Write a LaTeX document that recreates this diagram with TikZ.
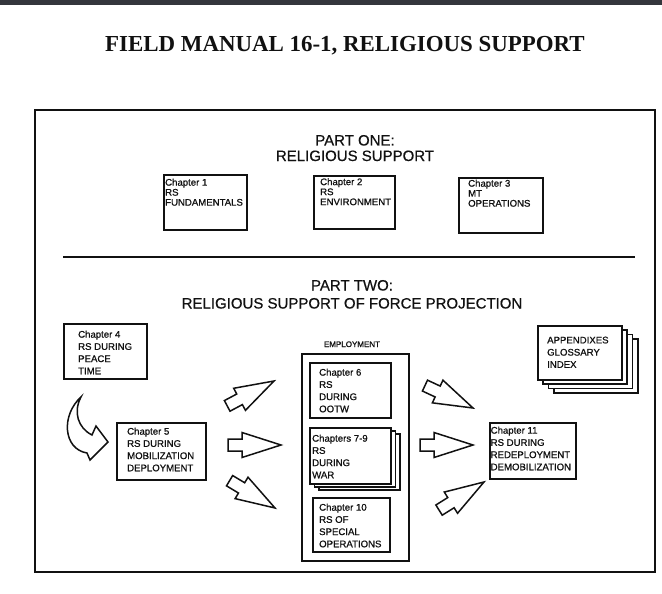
\documentclass[tikz,border=0pt]{standalone}
\usepackage{fontspec}
\setmainfont{Liberation Serif}
\newfontfamily\sansf{Liberation Sans}
\newfontfamily\sansb{Liberation Sans}[FakeBold=0.9]
\newfontfamily\sansh{Liberation Sans}[FakeBold=0.5]
\definecolor{ink}{HTML}{111111}
\definecolor{barcol}{RGB}{52,54,60}
\tikzset{
  chbox/.style={draw=ink, line width=1.5pt, fill=white, inner sep=0pt, anchor=north west},
  chtxt/.style={font=\sansb\fontsize{9.6}{12.2}\selectfont, align=left, anchor=north west, inner sep=0pt, text=ink},
  chtxtone/.style={chtxt, font=\sansb\fontsize{9.6}{10}\selectfont},
  parthead/.style={font=\sansh\fontsize{15}{18}\selectfont, inner sep=0pt, anchor=base, text=ink},
  blk/.style={draw=ink, line width=1.5pt, fill=white, line join=miter},
  blockarrow/.pic={\draw[blk] (-53,-6) -- (-39,-6) -- (-39,-12.5) -- (0,0) -- (-39,12.5) -- (-39,6) -- (-53,6) -- cycle;}
}
\begin{document}
\begin{tikzpicture}[x=1pt,y=-1pt]
\useasboundingbox (0,0) rectangle (662,594);
\fill[white] (0,0) rectangle (662,594);
\fill[barcol] (0,0) rectangle (662,5);
% title
\node[font=\bfseries\fontsize{22.9}{26}\selectfont, anchor=base, inner sep=0pt, text=ink] (title) at (345,52) {FIELD MANUAL 16-1, RELIGIOUS SUPPORT};
% outer frame
\node[draw=ink, line width=1.8pt, inner sep=0pt, anchor=north west, minimum width=620pt, minimum height=462pt] (frame) at (34,109) {};
% part one
\node[parthead] (p1a) at (355,145.5) {PART ONE:};
\node[parthead] (p1b) at (355,161) {RELIGIOUS SUPPORT};
\node[chbox, minimum width=83pt, minimum height=55pt] (c1) at (163,174) {};
\node[chtxtone] (c1t) at (165,178.5) {Chapter 1\\RS\\FUNDAMENTALS};
\node[chbox, minimum width=81pt, minimum height=53pt] (c2) at (313,175) {};
\node[chtxtone] (c2t) at (320,178) {Chapter 2\\RS\\ENVIRONMENT};
\node[chbox, minimum width=84pt, minimum height=55pt] (c3) at (458,177) {};
\node[chtxtone] (c3t) at (468,179.5) {Chapter 3\\MT\\OPERATIONS};
% separator
\coordinate (sepL) at (63,256.5);
\coordinate (sepR) at (635,256.5);
\draw[ink, line width=2pt] (sepL) -- (sepR);
% part two
\node[parthead] (p2a) at (352,290.5) {PART TWO:};
\node[parthead] (p2b) at (352,308.5) {RELIGIOUS SUPPORT OF FORCE PROJECTION};
% chapter 4
\node[chbox, minimum width=83pt, minimum height=55pt] (c4) at (63,323) {};
\node[chtxt] (c4t) at (78,330.5) {Chapter 4\\RS DURING\\PEACE\\TIME};
% curved arrow
\draw[blk] (81,397) .. controls (61,415) and (63,449) .. (87,453) -- (90,460) -- (108,442) -- (96,426) -- (92,435) .. controls (78,428) and (73,412) .. (81,397) -- cycle;
% chapter 5
\node[chbox, minimum width=89pt, minimum height=57pt] (c5) at (116,422) {};
\node[chtxt] (c5t) at (127,427.5) {Chapter 5\\RS DURING\\MOBILIZATION\\DEPLOYMENT};
% left block arrows
\pic[rotate=28] at (274,381) {blockarrow};
\pic at (281,445) {blockarrow};
\pic[rotate=-31] at (275,508) {blockarrow};
% employment
\node[font=\sansb\fontsize{8}{9}\selectfont, anchor=base, inner sep=0pt, text=ink] (emplab) at (352,347) {EMPLOYMENT};
\node[chbox, minimum width=107pt, minimum height=207pt] (emp) at (301,353) {};
\node[chbox, minimum width=81pt, minimum height=55pt] (c6) at (309,362) {};
\node[chtxt] (c6t) at (319,368.5) {Chapter 6\\RS\\DURING\\OOTW};
\node[chbox, minimum width=81pt, minimum height=56pt] (c79c) at (318,433) {};
\node[chbox, minimum width=81pt, minimum height=56pt] (c79b) at (313.5,430) {};
\node[chbox, minimum width=81pt, minimum height=56pt] (c79) at (309,427) {};
\node[chtxt] (c79t) at (312,434.5) {Chapters 7-9\\RS\\DURING\\WAR};
\node[chbox, minimum width=77pt, minimum height=54pt] (c10) at (312,497) {};
\node[chtxt] (c10t) at (319,503.5) {Chapter 10\\RS OF\\SPECIAL\\OPERATIONS};
% right block arrows
\pic[rotate=-25] at (473,408) {blockarrow};
\pic at (473,445) {blockarrow};
\pic[rotate=32] at (484,482) {blockarrow};
% chapter 11
\node[chbox, minimum width=86pt, minimum height=56pt] (c11) at (489,422) {};
\node[chtxt] (c11t) at (490.5,426.5) {Chapter 11\\RS DURING\\REDEPLOYMENT\\DEMOBILIZATION};
% appendixes stack
\node[chbox, minimum width=84pt, minimum height=54pt] (apd) at (553,338) {};
\node[chbox, minimum width=84pt, minimum height=54pt] (apc) at (547.6,333.6) {};
\node[chbox, minimum width=84pt, minimum height=54pt] (apb) at (542.3,329.3) {};
\node[chbox, minimum width=84pt, minimum height=54pt] (ap) at (537,325) {};
\node[chtxt] (apt) at (547,336.5) {APPENDIXES\\GLOSSARY\\INDEX};
\end{tikzpicture}
\end{document}
